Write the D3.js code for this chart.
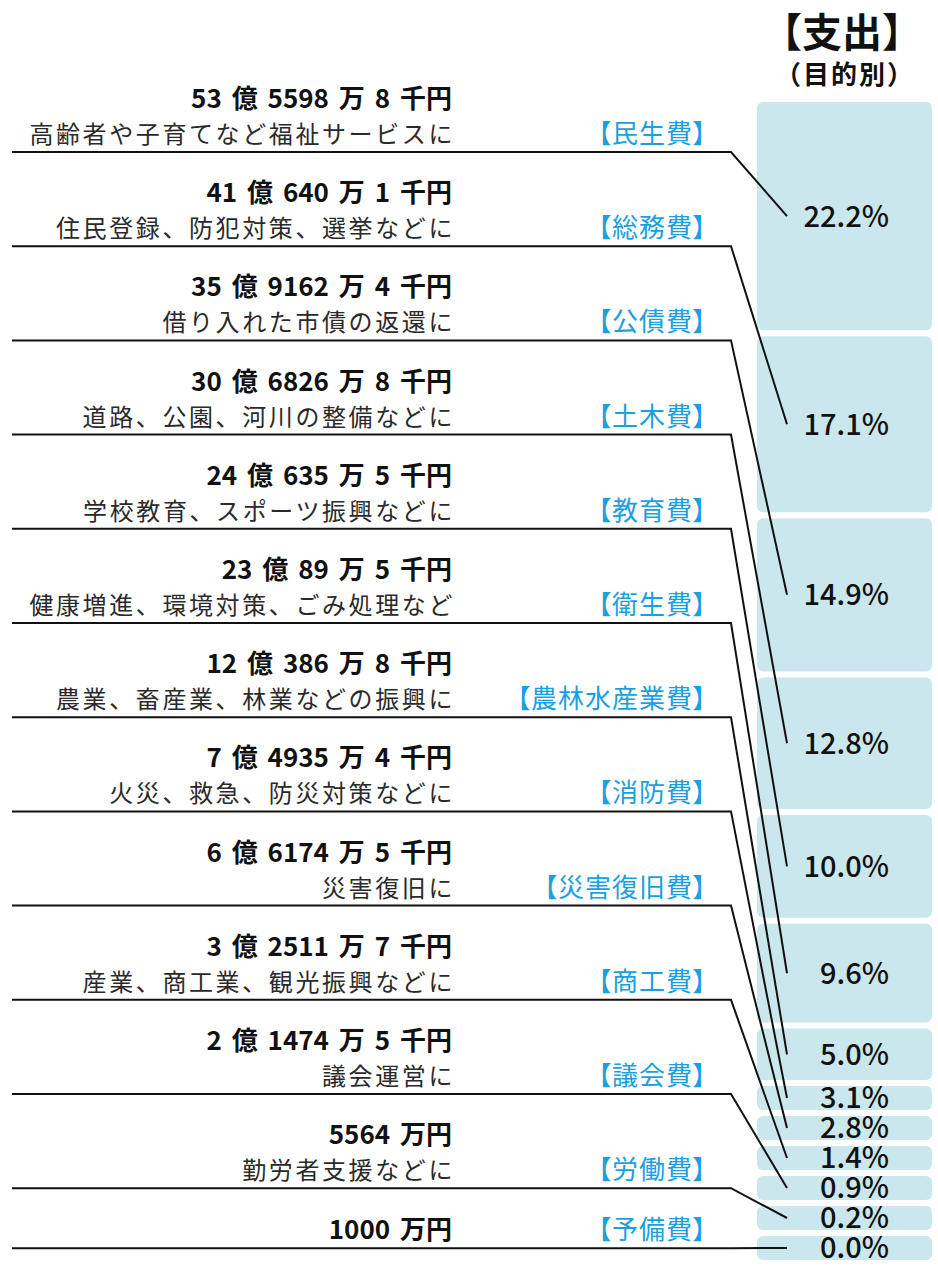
<!DOCTYPE html>
<html>
<head>
<meta charset="utf-8">
<script src="https://cdn.jsdelivr.net/npm/d3@7"></script>
<style>
  body { margin: 0; background: #fff; }
  svg { display: block; font-family: 'Noto Sans CJK JP', 'Noto Sans', sans-serif; }
</style>
</head>
<body>
<div id="chart"></div>
<script>
// ---- data ----
const categories = ['民生費', '総務費', '公債費', '土木費', '教育費', '衛生費', '農林水産業費',
  '消防費', '災害復旧費', '商工費', '議会費', '労働費', '予備費']
const amounts = ['53 億 5598 万 8 千円', '41 億 640 万 1 千円', '35 億 9162 万 4 千円',
  '30 億 6826 万 8 千円', '24 億 635 万 5 千円', '23 億 89 万 5 千円', '12 億 386 万 8 千円',
  '7 億 4935 万 4 千円', '6 億 6174 万 5 千円', '3 億 2511 万 7 千円', '2 億 1474 万 5 千円',
  '5564 万円', '1000 万円']
const descriptions = ['高齢者や子育てなど福祉サービスに', '住民登録、防犯対策、選挙などに',
  '借り入れた市債の返還に', '道路、公園、河川の整備などに', '学校教育、スポーツ振興などに',
  '健康増進、環境対策、ごみ処理など', '農業、畜産業、林業などの振興に', '火災、救急、防災対策などに',
  '災害復旧に', '産業、商工業、観光振興などに', '議会運営に', '勤労者支援などに', '']
const shares = [22.2, 17.1, 14.9, 12.8, 10.0, 9.6, 5.0, 3.1, 2.8, 1.4, 0.9, 0.2, 0.0]

// ---- layout ----
const W = 938
const H = 1270
const barX = 757
const barW = 175
const barTop = 102
const barBottom = 1260
const gap = 6
const slotH = 24 // fixed slot for the small items (under 4%)
const isSmall = v => v < 4

const svg = d3.select('#chart').append('svg')
  .attr('width', W)
  .attr('height', H)

// title
svg.append('text')
  .attr('x', 842).attr('y', 47)
  .attr('text-anchor', 'middle')
  .style('font-size', '40px').style('font-weight', 700)
  .attr('fill', '#111')
  .text('【支出】')
svg.append('text')
  .attr('x', 845).attr('y', 84)
  .attr('text-anchor', 'middle')
  .style('font-size', '26px').style('font-weight', 700)
  .style('letter-spacing', '2px')
  .attr('fill', '#111')
  .text('（目的別）')

// segment heights: linear in share, small items get a fixed slot
const avail = (barBottom - barTop) - gap * (shares.length - 1)
const nSmall = shares.filter(isSmall).length
const bigSum = d3.sum(shares.filter(v => !isSmall(v)))
const hScale = d3.scaleLinear().domain([0, bigSum]).range([0, avail - nSmall * slotH])
const segH = shares.map(v => isSmall(v) ? slotH : hScale(v))
const segY = []
segH.reduce((acc, h) => { segY.push(acc); return acc + h + gap }, barTop)

const bar = svg.append('g')
bar.selectAll('rect')
  .data(shares)
  .join('rect')
  .attr('x', barX)
  .attr('y', (d, i) => segY[i])
  .attr('width', barW)
  .attr('height', (d, i) => segH[i])
  .attr('rx', 6)
  .attr('fill', '#cbe7ee')

bar.selectAll('text')
  .data(shares)
  .join('text')
  .attr('x', 889)
  .attr('y', (d, i) => segY[i] + segH[i] / 2)
  .attr('dy', '0.36em')
  .attr('text-anchor', 'end')
  .style('font-size', '29px')
  .style('font-weight', 500)
  .attr('fill', '#111')
  .text(d => d3.format('.1f')(d) + '%')

// left side rows
const rowLines = []
descriptions.reduce((acc, d) => {
  const y = acc + (d ? 94.2 : 60)
  rowLines.push(y)
  return y
}, 152 - 94.2)

const rows = svg.append('g')
categories.forEach((cat, i) => {
  const ly = rowLines[i]
  const hasDesc = descriptions[i] !== ''
  const g = rows.append('g')

  g.append('text')
    .attr('x', 452)
    .attr('y', hasDesc ? ly - 44 : ly - 9)
    .attr('text-anchor', 'end')
    .style('font-size', '26px')
    .style('word-spacing', '4px')
    .style('font-weight', 700)
    .attr('fill', '#111')
    .text(amounts[i])

  if (hasDesc) {
    g.append('text')
      .attr('x', 455)
      .attr('y', ly - 9)
      .attr('text-anchor', 'end')
      .style('font-size', '24px')
      .style('letter-spacing', '2.6px')
      .style('font-weight', 400)
      .attr('fill', '#2a2a2a')
      .text(descriptions[i])
  }

  g.append('text')
    .attr('x', 707)
    .attr('y', ly - 9)
    .attr('text-anchor', 'end')
    .style('font-size', '26px')
    .style('letter-spacing', '1px')
    .style('font-feature-settings', "'palt'")
    .style('font-weight', 400)
    .attr('fill', '#1a9fe0')
    .text('【' + cat + '】')

  const endY = segY[i] + segH[i] / 2
  g.append('path')
    .attr('d', d3.line()([[12, ly], [731, ly], [787, endY]]))
    .attr('fill', 'none')
    .attr('stroke', '#111')
    .attr('stroke-width', 2)
})
</script>
</body>
</html>
